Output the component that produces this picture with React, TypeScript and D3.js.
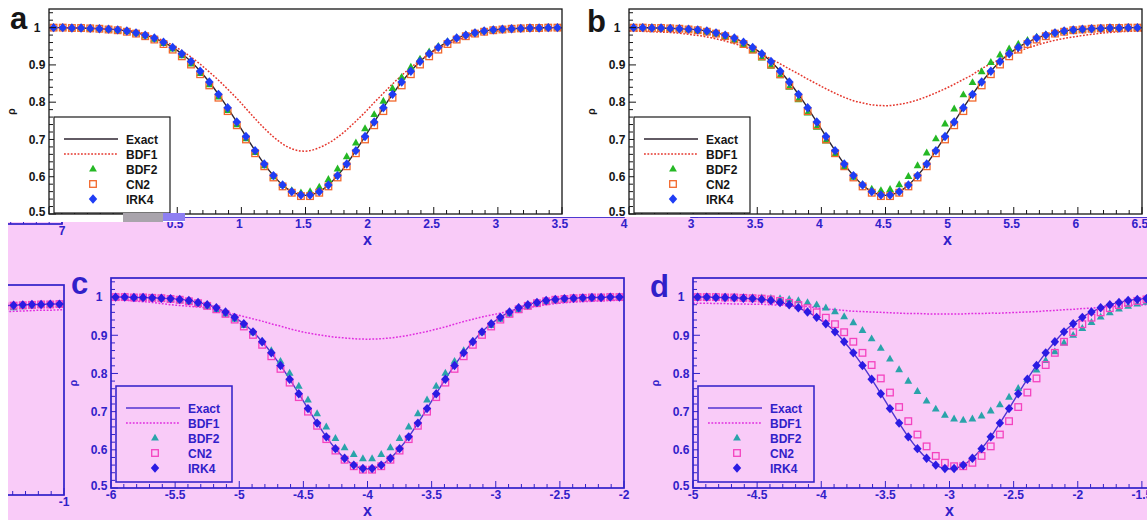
import React from "react";
import * as d3 from "d3";

const W = 1147;
const H = 520;
const FONT = "'Liberation Sans', Arial, Helvetica, sans-serif";

// x-domains of the four panels
const domainA: [number, number] = [0, 4];
const domainB: [number, number] = [3, 7];
const domainC: [number, number] = [-6, -2];
const domainD: [number, number] = [-5, -1];
const yDomain: [number, number] = [0.5, 1.05];
const yTickValues = [0.5, 0.6, 0.7, 0.8, 0.9, 1];
const legendNames = ["Exact", "BDF1", "BDF2", "CN2", "IRK4"];

// values at the 56 cell centres of each panel
const rhoExact = [1.000,1.000,0.999,0.999,0.998,0.997,0.996,0.994,0.991,0.986,0.980,0.972,0.961,0.947,0.930,0.909,0.883,0.854,0.821,0.785,0.747,0.708,0.670,0.634,0.603,0.578,0.560,0.551,0.551,0.560,0.578,0.603,0.634,0.670,0.708,0.747,0.785,0.821,0.854,0.883,0.909,0.930,0.947,0.961,0.972,0.980,0.986,0.991,0.994,0.996,0.997,0.998,0.999,0.999,1.000,1.000];
const rhoIRK4 = [1.000,1.000,0.999,0.999,0.998,0.997,0.996,0.994,0.991,0.986,0.980,0.972,0.961,0.947,0.930,0.909,0.883,0.854,0.821,0.785,0.747,0.708,0.670,0.634,0.603,0.578,0.560,0.551,0.551,0.560,0.578,0.603,0.634,0.670,0.708,0.747,0.785,0.821,0.854,0.883,0.909,0.930,0.947,0.961,0.972,0.980,0.986,0.991,0.994,0.996,0.997,0.998,0.999,0.999,1.000,1.000];
const cn2ABC = [1.000,1.000,0.999,0.999,0.998,0.997,0.995,0.993,0.989,0.984,0.977,0.968,0.956,0.941,0.923,0.901,0.875,0.845,0.812,0.776,0.738,0.700,0.663,0.628,0.598,0.574,0.557,0.548,0.548,0.557,0.574,0.598,0.628,0.663,0.700,0.738,0.776,0.812,0.845,0.875,0.901,0.923,0.941,0.956,0.968,0.977,0.984,0.989,0.993,0.995,0.997,0.998,0.999,0.999,1.000,1.000];
const cn2D = [1.000,1.000,1.000,0.999,0.999,0.998,0.997,0.996,0.994,0.990,0.985,0.979,0.971,0.960,0.946,0.929,0.908,0.883,0.854,0.822,0.787,0.750,0.712,0.675,0.640,0.609,0.584,0.566,0.557,0.557,0.566,0.584,0.609,0.640,0.675,0.712,0.750,0.787,0.822,0.854,0.883,0.908,0.929,0.946,0.960,0.971,0.979,0.985,0.990,0.994,0.996,0.997,0.998,0.999,0.999,1.000];

const bdf2A = [1.000,1.000,0.999,0.999,0.998,0.997,0.995,0.993,0.990,0.985,0.978,0.969,0.958,0.943,0.925,0.903,0.877,0.847,0.814,0.778,0.740,0.702,0.665,0.630,0.600,0.577,0.563,0.557,0.560,0.572,0.593,0.621,0.654,0.691,0.729,0.767,0.803,0.837,0.867,0.894,0.916,0.935,0.950,0.963,0.973,0.981,0.986,0.991,0.994,0.996,0.997,0.998,0.999,0.999,1.000,1.000];
const bdf2B = [1.000,1.000,1.000,0.999,0.998,0.997,0.995,0.992,0.988,0.983,0.976,0.966,0.954,0.938,0.919,0.897,0.871,0.840,0.807,0.771,0.733,0.696,0.660,0.627,0.599,0.579,0.567,0.563,0.566,0.579,0.601,0.630,0.664,0.702,0.742,0.782,0.820,0.853,0.882,0.907,0.927,0.943,0.956,0.966,0.975,0.981,0.986,0.990,0.993,0.995,0.997,0.998,0.999,0.999,1.000,1.000];
const bdf2C = [1.000,1.000,0.999,0.998,0.997,0.996,0.994,0.991,0.987,0.982,0.975,0.966,0.955,0.942,0.926,0.907,0.885,0.860,0.832,0.801,0.767,0.731,0.695,0.660,0.630,0.606,0.588,0.577,0.577,0.588,0.606,0.630,0.660,0.695,0.731,0.767,0.801,0.832,0.860,0.885,0.907,0.926,0.942,0.955,0.966,0.975,0.982,0.987,0.991,0.994,0.996,0.997,0.998,0.999,1.000,1.000];
const bdf2D = [1.000,1.000,1.000,1.000,1.000,0.999,0.999,0.998,0.997,0.996,0.994,0.991,0.986,0.980,0.972,0.962,0.949,0.933,0.913,0.891,0.866,0.838,0.810,0.780,0.753,0.728,0.707,0.691,0.681,0.678,0.681,0.689,0.702,0.718,0.738,0.761,0.785,0.809,0.834,0.857,0.880,0.900,0.918,0.934,0.948,0.959,0.969,0.976,0.982,0.987,0.991,0.993,0.995,0.997,0.998,0.999];

const bdf1A = [1.000,1.000,0.999,0.999,0.998,0.997,0.996,0.995,0.993,0.989,0.983,0.975,0.965,0.953,0.938,0.921,0.902,0.881,0.859,0.835,0.810,0.783,0.756,0.730,0.707,0.688,0.675,0.669,0.670,0.678,0.690,0.706,0.726,0.749,0.773,0.799,0.824,0.849,0.872,0.893,0.912,0.929,0.944,0.956,0.966,0.974,0.981,0.986,0.990,0.993,0.995,0.997,0.998,0.998,0.999,1.000];
const bdf1B = [0.991,0.990,0.989,0.988,0.987,0.985,0.982,0.979,0.975,0.970,0.964,0.957,0.949,0.939,0.928,0.916,0.903,0.889,0.876,0.862,0.849,0.836,0.824,0.813,0.804,0.798,0.793,0.791,0.791,0.794,0.799,0.806,0.815,0.825,0.836,0.848,0.861,0.874,0.890,0.903,0.915,0.926,0.936,0.945,0.953,0.960,0.966,0.971,0.975,0.979,0.982,0.985,0.987,0.989,0.990,0.991];
const bdf1C = [0.993,0.992,0.990,0.988,0.986,0.983,0.980,0.978,0.976,0.974,0.971,0.966,0.960,0.955,0.949,0.943,0.937,0.930,0.924,0.917,0.911,0.906,0.902,0.898,0.895,0.893,0.891,0.890,0.890,0.891,0.893,0.896,0.900,0.905,0.910,0.916,0.922,0.929,0.936,0.942,0.948,0.953,0.958,0.963,0.968,0.972,0.976,0.980,0.983,0.985,0.987,0.988,0.989,0.990,0.991,0.992];
const bdf1D = [0.984,0.984,0.983,0.983,0.982,0.982,0.981,0.981,0.980,0.979,0.978,0.977,0.975,0.972,0.969,0.967,0.965,0.963,0.962,0.961,0.960,0.959,0.958,0.957,0.957,0.956,0.956,0.956,0.956,0.956,0.957,0.957,0.958,0.958,0.959,0.960,0.961,0.962,0.964,0.965,0.967,0.968,0.970,0.971,0.973,0.975,0.976,0.978,0.979,0.980,0.981,0.982,0.983,0.984,0.984,0.985];

type Series = { exact: number[]; bdf1: number[]; bdf2: number[]; cn2: number[]; irk4: number[] };
const seriesA: Series = { exact: rhoExact, bdf1: bdf1A, bdf2: bdf2A, cn2: cn2ABC, irk4: rhoIRK4 };
const seriesB: Series = { exact: rhoExact, bdf1: bdf1B, bdf2: bdf2B, cn2: cn2ABC, irk4: rhoIRK4 };
const seriesC: Series = { exact: rhoExact, bdf1: bdf1C, bdf2: bdf2C, cn2: cn2ABC, irk4: rhoIRK4 };
const seriesD: Series = { exact: rhoExact, bdf1: bdf1D, bdf2: bdf2D, cn2: cn2D, irk4: rhoIRK4 };

type Theme = { fg: string; exact: string; bdf1: string; bdf2: string; cn2: string; irk4: string; bg: string; frame: number };
const whiteTheme: Theme = { fg: "#161616", exact: "#2e2430", bdf1: "#e5362c", bdf2: "#25b825", cn2: "#f2682c", irk4: "#1f3df5", bg: "#ffffff", frame: 1.3 };
const pinkTheme: Theme = { fg: "#3120c9", exact: "#5134d2", bdf1: "#e02ddf", bdf2: "#2aa3aa", cn2: "#f443bf", irk4: "#2b1be3", bg: "#f9cbf8", frame: 1.7 };

const triPath = "M0,-4.3L3.9,2.6L-3.9,2.6Z";
const diaPath = "M0,-4.7L4.2,0L0,4.7L-4.2,0Z";

function Marker({ kind, x, y, th }: { kind: string; x: number; y: number; th: Theme }) {
  if (kind === "bdf2") return <path d={triPath} transform={`translate(${x},${y})`} fill={th.bdf2} />;
  if (kind === "cn2") return <rect x={x - 3.3} y={y - 3.3} width={6.6} height={6.6} fill="none" stroke={th.cn2} strokeWidth={1.3} />;
  return <path d={diaPath} transform={`translate(${x},${y})`} fill={th.irk4} />;
}

type Show = { data?: boolean; legend?: boolean; yLabels?: boolean; xLabels?: boolean; title?: boolean; letter?: boolean };
type PanelProps = {
  L: number; top: number; bottom: number; domain: [number, number]; s: Series; th: Theme;
  letter: string; letterX: number; letterY: number; show: Show; xLabelFilter?: (v: number) => boolean;
};

function Panel({ L, top, bottom, domain, s, th, letter, letterX, letterY, show, xLabelFilter }: PanelProps) {
  const R = L + 513;
  const x = d3.scaleLinear().domain(domain).range([L, R]);
  const y = d3.scaleLinear().domain(yDomain).range([bottom, top]);
  const n = s.exact.length;
  const h = (domain[1] - domain[0]) / n;
  const xc = (i: number) => x(domain[0] + (i + 0.5) * h);
  const pts = (vals: number[]): [number, number][] => [
    [x(domain[0]), y(vals[0])],
    ...vals.map((v, i) => [xc(i), y(v)] as [number, number]),
    [x(domain[1]), y(vals[vals.length - 1])],
  ];
  const lineGen = d3.line().curve(d3.curveCatmullRom.alpha(0.5));
  const xMajor = d3.range(0, 9).map((k) => domain[0] + k * 0.5);
  const xMinor = d3.range(0, 41).map((k) => domain[0] + k * 0.1);
  const yMinor = d3.range(0, 28).map((k) => 0.5 + k * 0.02);
  const fmt = (v: number) => String(+v.toFixed(1));
  const lx = L + 5, ly = top + 108;
  const rowY = (k: number) => ly + 22 + k * 15;
  const xl = xLabelFilter ? xMajor.filter(xLabelFilter) : xMajor;
  return (
    <g>
      {show.data && (
        <g>
          <path d={lineGen(pts(s.exact)) || ""} fill="none" stroke={th.exact} strokeWidth={1.4} />
          <path d={lineGen(pts(s.bdf1)) || ""} fill="none" stroke={th.bdf1} strokeWidth={1.5} strokeDasharray="1.8,1.6" />
          {s.bdf2.map((v, i) => <Marker key={"t" + i} kind="bdf2" x={xc(i)} y={y(v)} th={th} />)}
          {s.cn2.map((v, i) => <Marker key={"s" + i} kind="cn2" x={xc(i)} y={y(v)} th={th} />)}
          {s.irk4.map((v, i) => <Marker key={"d" + i} kind="irk4" x={xc(i)} y={y(v)} th={th} />)}
        </g>
      )}
      <rect x={L} y={top} width={R - L} height={bottom - top} fill="none" stroke={th.fg} strokeWidth={th.frame} />
      {xMinor.map((v, i) => <line key={"xm" + i} x1={x(v)} x2={x(v)} y1={bottom} y2={bottom - (i % 5 === 0 ? 7 : 4)} stroke={th.fg} strokeWidth={1} />)}
      {yMinor.map((v, i) => <line key={"ym" + i} x1={L} x2={L + (i % 5 === 0 ? 7 : 4)} y1={y(v)} y2={y(v)} stroke={th.fg} strokeWidth={1} />)}
      {show.yLabels && yTickValues.map((v) => (
        <text key={"yl" + v} x={L - 12} y={y(v) + (v === 0.5 ? 2 : 4.3)} textAnchor="middle" fontSize={12} fontWeight="bold" fill={th.fg}>{fmt(v)}</text>
      ))}
      {show.xLabels && xl.map((v) => (
        <text key={"xl" + v} x={x(v)} y={bottom + 10.5} textAnchor="middle" fontSize={12} fontWeight="bold" fill={th.fg}>{fmt(v)}</text>
      ))}
      {show.title && <text x={(L + R) / 2} y={bottom + 28} textAnchor="middle" fontSize={16} fontWeight="bold" fill={th.fg}>x</text>}
      {show.yLabels && <text transform={`translate(${L - 34},${(top + bottom) / 2}) rotate(-90)`} textAnchor="middle" fontSize={11} fontWeight="bold" fill={th.fg}>ρ</text>}
      {show.letter && <text x={letterX} y={letterY} fontSize={31} fontWeight="bold" fill={th.fg}>{letter}</text>}
      {show.legend && (
        <g>
          <rect x={lx} y={ly} width={116} height={96} fill={th.bg} stroke={th.fg} strokeWidth={th.frame * 0.9} />
          <line x1={L + 15} x2={L + 69} y1={rowY(0)} y2={rowY(0)} stroke={th.exact} strokeWidth={1.5} />
          <line x1={L + 15} x2={L + 69} y1={rowY(1)} y2={rowY(1)} stroke={th.bdf1} strokeWidth={1.5} strokeDasharray="1.8,1.6" />
          <Marker kind="bdf2" x={L + 44} y={rowY(2)} th={th} />
          <Marker kind="cn2" x={L + 44} y={rowY(3)} th={th} />
          <Marker kind="irk4" x={L + 44} y={rowY(4)} th={th} />
          {legendNames.map((nm, k) => (
            <text key={nm} x={L + 77} y={rowY(k) + 4.5} fontSize={12} fontWeight="bold" fill={th.fg}>{nm}</text>
          ))}
        </g>
      )}
    </g>
  );
}

const FULL: Show = { data: true, legend: true, yLabels: true, xLabels: true, title: true, letter: true };
const TOP_ROW_PINK: Show = { xLabels: true, title: true };
const WHITE: Show = { data: true, legend: true, yLabels: true, letter: true };

export default function App() {
  return (
    <svg width={W} height={H} style={{ position: "absolute", left: 0, top: 0, display: "block" }} fontFamily={FONT}>
      <defs>
        <clipPath id="pinkClip">
          <rect x={8} y={222} width={W - 8} height={H - 222} />
          <rect x={185} y={217} width={W - 185} height={6} />
        </clipPath>
        <clipPath id="whiteClip">
          <path d={`M0,0H${W}V217H185V222H8V${H}H0Z`} />
        </clipPath>
        <clipPath id="fragClip">
          <rect x={8} y={222} width={62} height={H - 222} />
        </clipPath>
      </defs>
      <rect x={0} y={0} width={W} height={H} fill="#ffffff" />
      <g clipPath="url(#pinkClip)">
        <rect x={0} y={0} width={W} height={H} fill={pinkTheme.bg} />
        <Panel L={111} top={9} bottom={217} domain={domainA} s={seriesA} th={pinkTheme} letter="a" letterX={72} letterY={29} show={TOP_ROW_PINK} xLabelFilter={(v) => v > 0.2} />
        <Panel L={691} top={9} bottom={217} domain={domainB} s={seriesB} th={pinkTheme} letter="b" letterX={650} letterY={32} show={TOP_ROW_PINK} xLabelFilter={(v) => v < 6.8} />
        <Panel L={111} top={278} bottom={488} domain={domainC} s={seriesC} th={pinkTheme} letter="c" letterX={71} letterY={294} show={FULL} />
        <Panel L={693} top={278} bottom={488} domain={domainD} s={seriesD} th={pinkTheme} letter="d" letterX={650} letterY={297} show={FULL} xLabelFilter={(v) => v < -1.2} />
        <g clipPath="url(#fragClip)">
          <g transform="translate(-1142,7)">
            <Panel L={691} top={9} bottom={217} domain={domainB} s={seriesB} th={pinkTheme} letter="b" letterX={650} letterY={32} show={{ xLabels: true }} xLabelFilter={(v) => v > 6.8} />
            <Panel L={693} top={278} bottom={488} domain={domainD} s={seriesD} th={pinkTheme} letter="d" letterX={650} letterY={297} show={{ data: true, xLabels: true }} xLabelFilter={(v) => v > -1.2} />
          </g>
        </g>
      </g>
      <g clipPath="url(#whiteClip)">
        <Panel L={49} top={9} bottom={214} domain={domainA} s={seriesA} th={whiteTheme} letter="a" letterX={10} letterY={29} show={WHITE} />
        <Panel L={629} top={9} bottom={214} domain={domainB} s={seriesB} th={whiteTheme} letter="b" letterX={587} letterY={32} show={WHITE} />
      </g>
      <rect x={123} y={213} width={40} height={9} fill="#a9a4ac" />
      <rect x={163} y={213} width={22} height={8} fill="#8e7ff2" />
    </svg>
  );
}
